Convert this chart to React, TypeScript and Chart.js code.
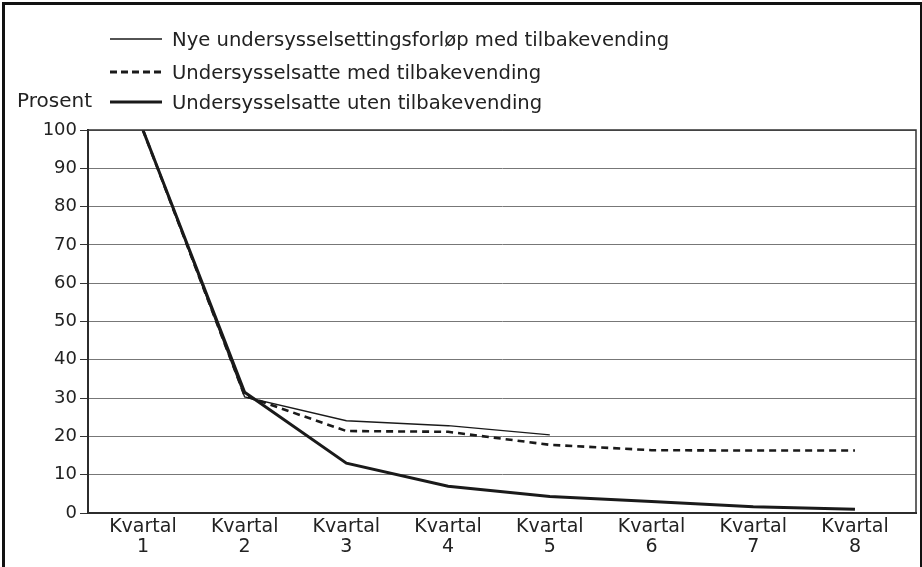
import React, { useEffect, useRef } from "react";
import { Chart, registerables } from "chart.js";

Chart.register(...registerables);

const quarters: number[] = [1, 2, 3, 4, 5, 6, 7, 8];
const categoryWord = "Kvartal";
const nyeMed: (number | null)[] = [100, 30.3, 24.1, 22.8, 20.4, null, null, null];
const undersysMed: number[] = [100, 30.6, 21.4, 21.2, 17.8, 16.4, 16.3, 16.3];
const undersysUten: number[] = [100, 31.5, 13.0, 7.0, 4.3, 3.0, 1.6, 1.0];
const legendLabels: string[] = [
  "Nye undersysselsettingsforløp med tilbakevending",
  "Undersysselsatte med tilbakevending",
  "Undersysselsatte uten tilbakevending",
];
const yTitle = "Prosent";

const FONT = "'DejaVu Sans', sans-serif";
const INK = "#1a1a1a";

const toPoints = (vals: (number | null)[]) => quarters.map((q, i) => ({ x: q, y: vals[i] }));

const frame = {
  id: "frame",
  afterDraw(chart: any) {
    const { ctx, chartArea: a } = chart;
    ctx.save();
    ctx.strokeStyle = "#333";
    ctx.lineWidth = 1.5;
    ctx.strokeRect(a.left, a.top, a.right - a.left, a.bottom - a.top);
    ctx.restore();
  },
};

export default function App() {
  const ref = useRef<HTMLCanvasElement>(null);
  useEffect(() => {
    const chart = new Chart(ref.current!, {
      type: "line",
      data: {
        datasets: [
          { label: legendLabels[0], data: toPoints(nyeMed), borderColor: INK, borderWidth: 1.4, pointRadius: 0, tension: 0, spanGaps: false },
          { label: legendLabels[1], data: toPoints(undersysMed), borderColor: INK, borderWidth: 2.6, borderDash: [7, 5], pointRadius: 0, tension: 0 },
          { label: legendLabels[2], data: toPoints(undersysUten), borderColor: INK, borderWidth: 3, pointRadius: 0, tension: 0 },
        ],
      },
      plugins: [frame],
      options: {
        animation: false,
        responsive: false,
        layout: { padding: { top: 130, right: 6, left: 0, bottom: 0 } },
        plugins: { legend: { display: false }, tooltip: { enabled: false } },
        scales: {
          x: {
            type: "linear",
            min: 0.46,
            max: 8.6,
            grid: { display: false, drawTicks: false },
            border: { display: true, color: INK, width: 2 },
            afterBuildTicks: (s: any) => { s.ticks = quarters.map((q) => ({ value: q })); },
            ticks: {
              color: "#222",
              font: { family: FONT, size: 19, lineHeight: 1.05 },
              padding: 4,
              maxRotation: 0,
              autoSkip: false,
              callback: (v: any) => [categoryWord, String(v)],
            },
            afterFit: (s: any) => { s.height = 54; },
          },
          y: {
            min: 0, max: 100,
            ticks: { stepSize: 10, color: "#222", font: { family: FONT, size: 18 }, padding: 3 },
            grid: { color: "#777", lineWidth: 1, tickLength: 8, tickColor: "#333" },
            border: { display: true, color: INK, width: 2 },
            afterFit: (s: any) => { s.width = 88; },
          },
        },
      },
    });
    return () => chart.destroy();
  }, []);

  const legendRow = (i: number, top: number, sample: React.ReactNode) => (
    <div style={{ position: "absolute", left: 110, top, display: "flex", alignItems: "center", height: 24 }}>
      <svg width={52} height={6} style={{ marginRight: 10 }}>{sample}</svg>
      <span style={{ fontFamily: FONT, fontSize: 19.6, color: "#222", whiteSpace: "nowrap" }}>{legendLabels[i]}</span>
    </div>
  );

  return (
    <div style={{ position: "fixed", left: 0, top: 0, width: 922, height: 567, background: "#fff", overflow: "hidden" }}>
      <canvas ref={ref} width={922} height={567} style={{ position: "absolute", left: 0, top: 0 }} />
      <div style={{ position: "absolute", left: 2, top: 2, width: 915, height: 580, borderLeft: "3px solid #111", borderTop: "3px solid #111", borderRight: "3px solid #111" }} />
      {legendRow(0, 27, <line x1={0} y1={3} x2={52} y2={3} stroke="#1a1a1a" strokeWidth={1.4} />)}
      {legendRow(1, 60, <line x1={0} y1={3} x2={52} y2={3} stroke="#1a1a1a" strokeWidth={3} strokeDasharray="7,4" />)}
      {legendRow(2, 90, <line x1={0} y1={3} x2={52} y2={3} stroke="#1a1a1a" strokeWidth={3} />)}
      <div style={{ position: "absolute", left: 17, top: 88, fontFamily: FONT, fontSize: 20, color: "#222" }}>{yTitle}</div>
    </div>
  );
}
